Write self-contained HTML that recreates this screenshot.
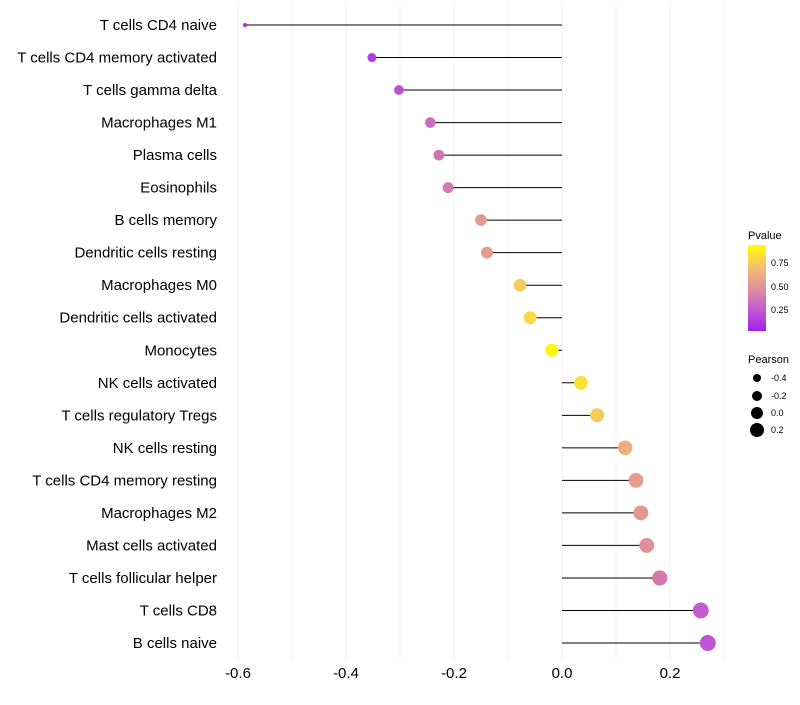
<!DOCTYPE html>
<html><head><meta charset="utf-8"><style>
body{margin:0;background:#fff;}
svg text{font-family:"Liberation Sans",sans-serif;}
</style></head><body>
<svg id="chart" width="800" height="700">
<defs><linearGradient id="pg" x1="0" y1="1" x2="0" y2="0">
<stop offset="0" stop-color="#a020f0"/><stop offset="0.25" stop-color="#c45ad0"/>
<stop offset="0.5" stop-color="#e0909a"/><stop offset="0.75" stop-color="#f5c070"/>
<stop offset="1" stop-color="#ffff00"/></linearGradient></defs>
<g id="grid"></g><g id="marks"></g><g id="labels"></g><g id="xaxis"></g>
<g>
<text x="748" y="239" font-size="11">Pvalue</text>
<rect x="748" y="245" width="18" height="86" fill="url(#pg)"/>
<text x="771" y="266" font-size="9">0.75</text>
<text x="771" y="290" font-size="9">0.50</text>
<text x="771" y="313" font-size="9">0.25</text>
</g>
<g>
<text x="748" y="363" font-size="11">Pearson</text>
<circle cx="757" cy="378" r="4"/><text x="771" y="381" font-size="9">-0.4</text>
<circle cx="757" cy="396" r="5"/><text x="771" y="399" font-size="9">-0.2</text>
<circle cx="757" cy="413" r="6"/><text x="771" y="416" font-size="9">0.0</text>
<circle cx="757" cy="430" r="7"/><text x="771" y="433" font-size="9">0.2</text>
</g>
</svg>
<script>
const categories=["T cells CD4 naive","T cells CD4 memory activated","T cells gamma delta","Macrophages M1","Plasma cells","Eosinophils","B cells memory","Dendritic cells resting","Macrophages M0","Dendritic cells activated","Monocytes","NK cells activated","T cells regulatory  Tregs ","NK cells resting","T cells CD4 memory resting","Macrophages M2","Mast cells activated","T cells follicular helper","T cells CD8","B cells naive"];
const pearson=[-0.587,-0.352,-0.302,-0.244,-0.228,-0.211,-0.150,-0.139,-0.078,-0.059,-0.019,0.035,0.065,0.117,0.137,0.146,0.157,0.181,0.257,0.270];
const pvalue=[0.05,0.12,0.2,0.33,0.36,0.39,0.55,0.57,0.8,0.85,0.97,0.88,0.8,0.65,0.57,0.53,0.5,0.4,0.25,0.22];
const xTicks=[-0.6,-0.4,-0.2,0.0,0.2];
const xTickLabels=["-0.6","-0.4","-0.2","0.0","0.2"];
const NS="http://www.w3.org/2000/svg";
const xs=v=>562+v*540;
const ys=i=>25+i*(643-25)/19;
const rs=v=>Math.sqrt(Math.max(2.5,45+70*v));
const stops=[[0,[160,32,240]],[0.25,[196,90,208]],[0.5,[224,144,154]],[0.75,[245,192,112]],[1,[255,255,0]]];
function col(p){for(let i=0;i<stops.length-1;i++){const a=stops[i],b=stops[i+1];if(p<=b[0]){const t=(p-a[0])/(b[0]-a[0]);const c=a[1].map((x,k)=>Math.round(x+(b[1][k]-x)*t));return `rgb(${c})`;}}return "rgb(255,255,0)";}
function mk(tag,attrs,parent){const e=document.createElementNS(NS,tag);for(const k in attrs)e.setAttribute(k,attrs[k]);parent.appendChild(e);return e;}
const grid=document.getElementById('grid'),marks=document.getElementById('marks'),labels=document.getElementById('labels'),xaxis=document.getElementById('xaxis');
for(let v=-0.6;v<=0.31;v+=0.1){const l=mk('line',{x1:xs(v),x2:xs(v),y1:5,y2:660,stroke:'#f0f0f0','stroke-width':1},grid);

}
categories.forEach((c,i)=>{
const y=ys(i);
const s=mk('line',{x1:xs(0),x2:xs(pearson[i]),y1:y,y2:y,stroke:'#000','stroke-width':1},marks);


const d=mk('circle',{cx:xs(pearson[i]),cy:y,r:rs(pearson[i]),fill:col(pvalue[i])},marks);


const t=mk('text',{x:217,y:y+5,'text-anchor':'end','font-size':15,fill:'#000'},labels);
t.textContent=c;


});
xTicks.forEach((v,i)=>{const t=mk('text',{x:xs(v),y:678,'text-anchor':'middle','font-size':15,fill:'#000'},xaxis);
t.textContent=xTickLabels[i];

});
</script>
</body></html>
